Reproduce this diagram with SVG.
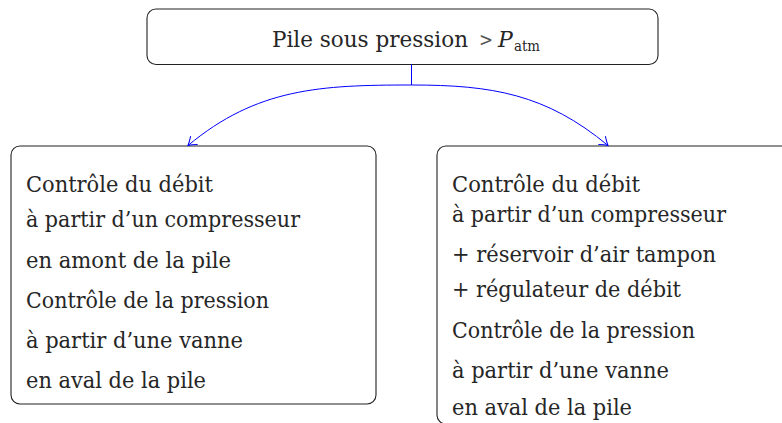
<svg xmlns="http://www.w3.org/2000/svg" width="782" height="423" viewBox="0 0 782 423">
<style>
.box{fill:#fff;stroke:#222;stroke-width:1.1}
text{font-family:'DejaVu Serif','Liberation Serif','Noto Serif',serif;font-size:22px;fill:#262626}
.conn{fill:none;stroke:#0000ff;stroke-width:1}
</style>
<defs>
<marker id="to" markerUnits="userSpaceOnUse" markerWidth="16" markerHeight="16" viewBox="-10 -8 12 16" refX="0" refY="0" orient="auto">
<path d="M-8,-5.5 Q-3,-1.5 0,0 Q-3,1.5 -8,5.5" fill="none" stroke="#0000ff" stroke-width="1"/>
</marker>
</defs>
<rect width="782" height="423" fill="#fff"/>
<g id="top">
<rect class="box" x="147" y="9" width="511" height="55.5" rx="9"/>
<text x="272" y="47" textLength="196" lengthAdjust="spacingAndGlyphs">Pile sous pression</text>
<text x="479" y="46" style="font-size:19px;fill:#555" textLength="14" lengthAdjust="spacingAndGlyphs">&gt;</text>
<text x="498" y="47" style="font-style:italic">P</text>
<text x="514" y="51" style="font-size:15px" textLength="26" lengthAdjust="spacingAndGlyphs">atm</text>
</g>
<g id="left">
<rect class="box" x="11" y="146" width="365" height="258" rx="9"/>
<text x="26" y="192" textLength="187" lengthAdjust="spacingAndGlyphs">Contrôle du débit</text>
<text x="26" y="227" textLength="274" lengthAdjust="spacingAndGlyphs">à partir d’un compresseur</text>
<text x="26" y="268" textLength="205" lengthAdjust="spacingAndGlyphs">en amont de la pile</text>
<text x="26" y="307.5" textLength="243" lengthAdjust="spacingAndGlyphs">Contrôle de la pression</text>
<text x="26" y="348" textLength="217" lengthAdjust="spacingAndGlyphs">à partir d’une vanne</text>
<text x="26" y="388" textLength="180" lengthAdjust="spacingAndGlyphs">en aval de la pile</text>
</g>
<g id="right">
<rect class="box" x="437" y="146" width="370" height="278" rx="9"/>
<text x="452" y="192" textLength="188" lengthAdjust="spacingAndGlyphs">Contrôle du débit</text>
<text x="452" y="222" textLength="274" lengthAdjust="spacingAndGlyphs">à partir d’un compresseur</text>
<text x="452" y="261.5" textLength="264" lengthAdjust="spacingAndGlyphs">+ réservoir d’air tampon</text>
<text x="452" y="297" textLength="229" lengthAdjust="spacingAndGlyphs">+ régulateur de débit</text>
<text x="452" y="338" textLength="243" lengthAdjust="spacingAndGlyphs">Contrôle de la pression</text>
<text x="452" y="378" textLength="217" lengthAdjust="spacingAndGlyphs">à partir d’une vanne</text>
<text x="452" y="415" textLength="180" lengthAdjust="spacingAndGlyphs">en aval de la pile</text>
</g>
<g id="connectors">
<line class="conn" x1="411.5" y1="64.5" x2="411.5" y2="85"/>
<path class="conn" d="M411.5,85 C321,85 257,88 188,145.5" marker-end="url(#to)"/>
<path class="conn" d="M411.5,85 C492,85 546,94 608,145.5" marker-end="url(#to)"/>
</g>
</svg>
